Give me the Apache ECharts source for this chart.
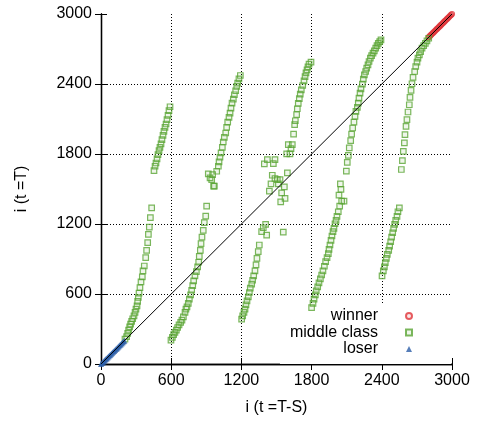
<!DOCTYPE html>
<html>
<head>
<meta charset="utf-8">
<script src="https://cdn.jsdelivr.net/npm/echarts@6/dist/echarts.min.js"></script>
<style>
  html, body { margin: 0; padding: 0; background: #fff; }
  #chart { width: 480px; height: 421px; }
</style>
</head>
<body>
<div id="chart"></div>
<script>
// Axis ticks (shared by both axes)
const tickValues = [0, 600, 1200, 1800, 2400, 3000];

// Losers: ranks that stay on the diagonal near the bottom
const loser = [
  [0, 0], [8, 8], [16, 16], [24, 24], [32, 32], [40, 40], [48, 48], [56, 56],
  [64, 64], [72, 72], [80, 80], [88, 88], [96, 96], [104, 104], [112, 112],
  [120, 120], [128, 128], [136, 136], [144, 144], [152, 152], [160, 160],
  [168, 168], [176, 176], [184, 184], [192, 192], [200, 200]
];

// Winners: ranks that stay on the diagonal near the top
const winner = [
  [2800, 2800], [2808, 2808], [2816, 2816], [2824, 2824], [2832, 2832],
  [2840, 2840], [2848, 2848], [2856, 2856], [2864, 2864], [2872, 2872],
  [2880, 2880], [2888, 2888], [2896, 2896], [2904, 2904], [2912, 2912],
  [2920, 2920], [2928, 2928], [2936, 2936], [2944, 2944], [2952, 2952],
  [2960, 2960], [2968, 2968], [2976, 2976], [2984, 2984], [2992, 2992],
  [3000, 3000]
];

// Middle class, first band (x 200 - 600)
const middleBand1 = [
  [205, 214], [219, 234], [228, 262], [236, 291], [245, 319], [253, 342],
  [262, 365], [271, 388], [282, 413], [291, 442], [299, 470], [308, 499],
  [313, 536], [319, 570], [325, 607], [333, 655], [342, 704], [353, 746],
  [359, 798], [370, 840], [382, 912], [390, 974], [399, 1040], [405, 1111],
  [413, 1174], [422, 1254], [433, 1339],
  [453, 1658], [462, 1695], [470, 1723], [479, 1758], [487, 1795], [496, 1829],
  [504, 1857], [513, 1886], [521, 1923], [530, 1960], [538, 1994], [547, 2028],
  [556, 2057], [564, 2094], [573, 2131], [581, 2171], [590, 2205]
];

// Middle class, second band (x 600 - 1200)
const middleBand2 = [
  [598, 205], [610, 228], [621, 251], [632, 271], [644, 291], [655, 313],
  [667, 336], [681, 356], [692, 376], [704, 404], [718, 442], [726, 470],
  [735, 490], [746, 519], [755, 556], [766, 593], [775, 632], [784, 672],
  [792, 712], [803, 755], [815, 792], [826, 832], [835, 872], [840, 923],
  [849, 974], [855, 1031], [863, 1088], [874, 1145], [883, 1211], [895, 1268],
  [903, 1353],
  [917, 1630], [932, 1595], [946, 1581], [954, 1624], [969, 1524], [962, 1524],
  [989, 1652], [1003, 1695], [1009, 1732], [1017, 1772], [1026, 1809],
  [1037, 1857], [1045, 1903], [1054, 1943], [1066, 1980], [1074, 2028],
  [1083, 2074], [1094, 2114], [1103, 2151], [1111, 2194], [1120, 2236],
  [1131, 2270], [1140, 2308], [1151, 2342], [1160, 2379], [1168, 2407],
  [1179, 2444], [1191, 2473]
];

// Middle class, third band (x 1200 - 1800)
const middleBand3 = [
  [1202, 385], [1211, 413], [1222, 442], [1231, 470], [1239, 507], [1248, 541],
  [1259, 575], [1268, 613], [1276, 650], [1288, 684], [1296, 718], [1305, 755],
  [1316, 798], [1325, 849], [1333, 906], [1344, 963], [1353, 1020],
  [1373, 1134], [1387, 1168], [1407, 1197], [1416, 1105], [1558, 1131],
  [1396, 1715], [1422, 1752], [1473, 1718], [1487, 1752], [1464, 1618],
  [1487, 1590], [1507, 1581], [1530, 1581], [1516, 1544], [1453, 1544],
  [1439, 1481], [1567, 1518], [1544, 1467], [1573, 1419], [1536, 1390],
  [1593, 1638], [1587, 1801], [1615, 1801], [1635, 1880], [1601, 1880],
  [1624, 1846],
  [1646, 1971], [1655, 2051], [1661, 2085], [1672, 2137], [1678, 2188],
  [1686, 2234], [1695, 2274], [1703, 2313], [1712, 2350], [1724, 2387],
  [1735, 2427], [1744, 2464], [1752, 2496], [1761, 2521], [1769, 2547],
  [1778, 2570], [1795, 2587]
];

// Middle class, fourth band (x 1800 - 2400)
const middleBand4 = [
  [1800, 484], [1812, 519], [1821, 556], [1832, 593], [1840, 627], [1852, 661],
  [1863, 695], [1875, 729], [1886, 763], [1897, 798], [1909, 838], [1920, 877],
  [1932, 912], [1943, 946], [1949, 983], [1957, 1020], [1966, 1060],
  [1974, 1097], [1983, 1134], [1991, 1162], [2000, 1202], [2009, 1231],
  [2017, 1265], [2028, 1305], [2040, 1353], [2057, 1396], [2077, 1396],
  [2034, 1447], [2051, 1496], [2046, 1544],
  [2097, 1653], [2105, 1729], [2114, 1789], [2122, 1852], [2134, 1915],
  [2142, 1971], [2151, 2023], [2162, 2074], [2171, 2122], [2179, 2165],
  [2191, 2199], [2199, 2236], [2205, 2279], [2214, 2322], [2222, 2359],
  [2234, 2399], [2242, 2442], [2251, 2479], [2262, 2507], [2271, 2536],
  [2282, 2564], [2291, 2593], [2302, 2621], [2313, 2644], [2325, 2664],
  [2336, 2684], [2348, 2707], [2359, 2729], [2370, 2749], [2382, 2763],
  [2393, 2778]
];

// Middle class, fifth band (x 2400 - 2800)
const middleBand5 = [
  [2402, 755], [2413, 798], [2422, 832], [2430, 869], [2439, 906], [2447, 940],
  [2459, 974], [2467, 1011], [2476, 1048], [2484, 1088], [2493, 1125],
  [2501, 1162], [2510, 1197], [2519, 1231], [2530, 1265], [2538, 1305],
  [2550, 1339],
  [2567, 1667], [2576, 1744], [2584, 1823], [2593, 1895], [2598, 1966],
  [2607, 2037], [2615, 2094], [2624, 2160], [2635, 2222], [2641, 2285],
  [2650, 2345], [2658, 2402], [2667, 2456], [2681, 2507], [2690, 2550],
  [2701, 2587], [2709, 2621], [2721, 2650], [2732, 2678], [2744, 2707],
  [2758, 2729], [2772, 2749], [2786, 2769], [2801, 2792]
];

// Reference diagonal i(T) = i(T-S)
const diagonal = [[0, 0], [3000, 3000]];

const middleClass = [].concat(middleBand1, middleBand2, middleBand3, middleBand4, middleBand5);

const FONT = '"Liberation Sans", Arial, Helvetica, sans-serif';
const GREEN = '#5aa535';
const RED = '#e0343a';
const BLUE = '#2c5ea8';

function mainAxis(name, nameGap) {
  return {
    type: 'value',
    min: tickValues[0],
    max: tickValues[tickValues.length - 1],
    interval: 600,
    name: name,
    nameLocation: 'middle',
    nameGap: nameGap,
    nameTextStyle: { fontFamily: FONT, fontSize: 16, color: '#000' },
    axisLine: { show: true, lineStyle: { color: '#000', width: 1.3 } },
    axisTick: { show: true, inside: true, length: 6, lineStyle: { color: '#000', width: 1 } },
    axisLabel: {
      fontFamily: FONT, fontSize: 16, color: '#000', margin: 9,
      formatter: function (v) { return String(v); }
    },
    splitLine: {
      show: true,
      showMinLine: false,
      showMaxLine: false,
      lineStyle: { color: '#000', width: 1, type: [1, 2] }
    }
  };
}

function mirrorAxis(position) {
  return {
    type: 'value',
    position: position,
    min: tickValues[0],
    max: tickValues[tickValues.length - 1],
    interval: 600,
    axisLine: { show: true, lineStyle: { color: '#000', width: 1.3 } },
    axisTick: { show: true, inside: true, length: 6, lineStyle: { color: '#000', width: 1 } },
    axisLabel: { show: false },
    splitLine: { show: false }
  };
}

const chart = echarts.init(document.getElementById('chart'), null, { renderer: 'canvas' });

chart.setOption({
  animation: false,
  backgroundColor: '#fff',
  textStyle: { fontFamily: FONT },
  grid: { left: 101, top: 14, right: 28, bottom: 56, containLabel: false },
  xAxis: [mainAxis('i (t =T-S)', 36), mirrorAxis('top')],
  yAxis: [mainAxis('i (t =T)', 71), mirrorAxis('right')],
  legend: {
    orient: 'vertical',
    align: 'right',
    right: 29,
    top: 305,
    padding: [3, 38, 7, 10],
    itemWidth: 6,
    itemHeight: 6,
    itemGap: 0.5,
    backgroundColor: '#fff',
    z: 1,
    selectedMode: false,
    textStyle: { fontFamily: FONT, fontSize: 16, lineHeight: 16, color: '#000', padding: [0, 23, 0, 0] },
    data: ['winner', 'middle class', 'loser']
  },
  series: [
    {
      name: 'winner',
      type: 'scatter',
      data: winner,
      symbol: 'circle',
      symbolSize: 5,
      itemStyle: { color: 'rgba(224,52,58,0.15)', borderColor: RED, borderWidth: 1.2 },
      z: 3
    },
    {
      name: 'middle class',
      type: 'scatter',
      data: middleClass,
      symbol: 'rect',
      symbolSize: 5.5,
      itemStyle: { color: 'rgba(90,165,53,0.12)', borderColor: GREEN, borderWidth: 1.2 },
      z: 3
    },
    {
      name: 'loser',
      type: 'scatter',
      data: loser,
      symbol: 'triangle',
      symbolSize: 6,
      itemStyle: { color: BLUE },
      z: 3
    },
    {
      name: 'diagonal',
      type: 'line',
      data: diagonal,
      showSymbol: false,
      silent: true,
      lineStyle: { color: '#000', width: 1 },
      z: 4
    }
  ]
});
</script>
</body>
</html>
